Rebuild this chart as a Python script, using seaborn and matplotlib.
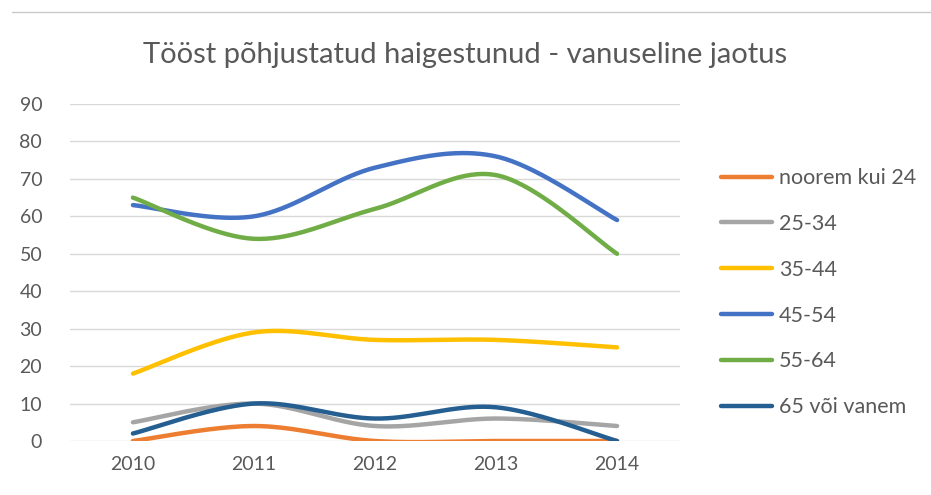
import numpy as np
import pandas as pd
import matplotlib
matplotlib.use("Agg")
import matplotlib.pyplot as plt
import seaborn as sns

aastad = ['2010', '2011', '2012', '2013', '2014']
noorem_kui_24 = [0, 4, 0, 0, 0]
v25_34 = [5, 10, 4, 6, 4]
v35_44 = [18, 29, 27, 27, 25]
v45_54 = [63, 60, 73, 76, 59]
v55_64 = [65, 54, 62, 71, 50]
v65_vanem = [2, 10, 6, 9, 0]

seeriad = {
    'noorem kui 24': noorem_kui_24,
    '25-34': v25_34,
    '35-44': v35_44,
    '45-54': v45_54,
    '55-64': v55_64,
    '65 või vanem': v65_vanem,
}
varvid = ['#ED7D31', '#A5A5A5', '#FFC000', '#4472C4', '#70AD47', '#255E91']


def silu(y, n=40):
    # Exceli-laadne sujuv joon (Catmull-Rom Bezier)
    x = np.arange(len(y), dtype=float)
    p = np.column_stack([x, np.asarray(y, dtype=float)])
    p = np.vstack([p[0], p, p[-1]])
    xs, ys = [], []
    t = np.linspace(0, 1, n)
    for i in range(1, len(p) - 2):
        p0, p1, p2, p3 = p[i - 1], p[i], p[i + 1], p[i + 2]
        c1 = p1 + (p2 - p0) / 6
        c2 = p2 - (p3 - p1) / 6
        b = ((1 - t) ** 3)[:, None] * p1 + (3 * (1 - t) ** 2 * t)[:, None] * c1 \
            + (3 * (1 - t) * t ** 2)[:, None] * c2 + (t ** 3)[:, None] * p2
        xs.extend(b[:, 0])
        ys.extend(b[:, 1])
    return np.array(xs), np.array(ys)


ridad = []
for nimi, vaartused in seeriad.items():
    sx, sy = silu(vaartused)
    for a, b in zip(sx, sy):
        ridad.append({'x': a, 'y': b, 'grupp': nimi})
df = pd.DataFrame(ridad)

sns.set_theme(style="white")
plt.rcParams['font.family'] = ['Lato', 'DejaVu Sans']
hall = '#595959'

fig = plt.figure(figsize=(9.31, 4.95), dpi=100)
ax = fig.add_axes([70 / 931, 54 / 495, 610 / 931, 337 / 495])

sns.lineplot(data=df, x='x', y='y', hue='grupp', palette=varvid, sort=False,
             estimator=None, linewidth=3.2, solid_capstyle='round', ax=ax)

ax.set_xlim(-0.52, 4.52)
ax.set_ylim(0, 90)
ax.set_yticks(range(0, 91, 10))
ax.set_xticks(range(len(aastad)))
ax.set_xticklabels(aastad)
ax.yaxis.grid(True, color='#D9D9D9', linewidth=1)
ax.set_axisbelow(True)
for s in ax.spines.values():
    s.set_visible(False)
ax.set_xlabel('')
ax.set_ylabel('')
ax.tick_params(axis='both', colors=hall, labelsize=14, length=0)
ax.tick_params(axis='y', pad=20)
ax.tick_params(axis='x', pad=11)

h, l = ax.get_legend_handles_labels()
ax.legend(h, l, loc='center left', bbox_to_anchor=(1.035, 0.44), frameon=False,
          fontsize=15.5, labelcolor=hall, handlelength=2.4, handletextpad=0.3,
          labelspacing=1.2)

fig.text(0.5, 0.888, 'Tööst põhjustatud haigestunud - vanuseline jaotus',
         ha='center', va='center', fontsize=21, color=hall)
fig.add_artist(plt.Line2D([12 / 931, 1], [1 - 12 / 495, 1 - 12 / 495],
                          color='#C8C8C8', linewidth=1))

fig.savefig('out.png', dpi=100)
